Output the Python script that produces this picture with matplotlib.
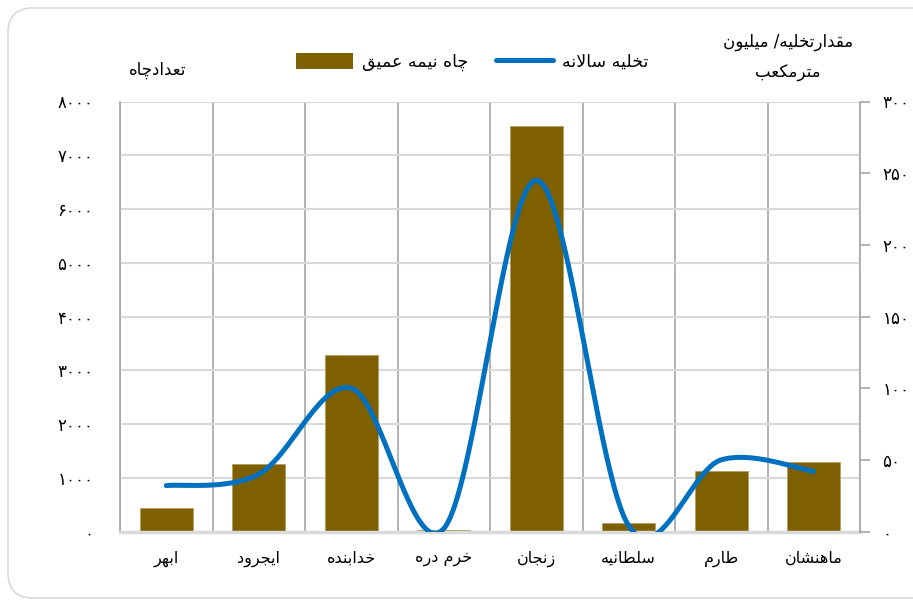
import numpy as np
import matplotlib
matplotlib.use('Agg')
import matplotlib.pyplot as plt
from matplotlib.ticker import FuncFormatter
from matplotlib.patches import FancyBboxPatch
from matplotlib.lines import Line2D
from matplotlib.patches import Patch

# داده ها
shahrestan = ['ابهر', 'ایجرود', 'خدابنده', 'خرم دره', 'زنجان', 'سلطانیه', 'طارم', 'ماهنشان']
tedad_chah = [430, 1250, 3280, 20, 7540, 160, 1130, 1290]   # محور چپ
takhlie = [32, 40, 100, 2, 245, 4, 50, 42]                   # محور راست

BAR_COLOR = '#7F6000'
LINE_COLOR = '#0070C0'

# matplotlib حروف فارسی را به هم نمی چسباند، پس شکل حروف را خودمان انتخاب می کنیم
# (جدا، پایانی، آغازی، میانی)
FORMS = {
    'ا': ('\uFE8D', '\uFE8E'),
    'ب': ('\uFE8F', '\uFE90', '\uFE91', '\uFE92'),
    'ت': ('\uFE95', '\uFE96', '\uFE97', '\uFE98'),
    'ج': ('\uFE9D', '\uFE9E', '\uFE9F', '\uFEA0'),
    'چ': ('\uFB7A', '\uFB7B', '\uFB7C', '\uFB7D'),
    'خ': ('\uFEA5', '\uFEA6', '\uFEA7', '\uFEA8'),
    'د': ('\uFEA9', '\uFEAA'),
    'ر': ('\uFEAD', '\uFEAE'),
    'ز': ('\uFEAF', '\uFEB0'),
    'س': ('\uFEB1', '\uFEB2', '\uFEB3', '\uFEB4'),
    'ش': ('\uFEB5', '\uFEB6', '\uFEB7', '\uFEB8'),
    'ط': ('\uFEC1', '\uFEC2', '\uFEC3', '\uFEC4'),
    'ع': ('\uFEC9', '\uFECA', '\uFECB', '\uFECC'),
    'ق': ('\uFED5', '\uFED6', '\uFED7', '\uFED8'),
    'ک': ('\uFB8E', '\uFB8F', '\uFB90', '\uFB91'),
    'ل': ('\uFEDD', '\uFEDE', '\uFEDF', '\uFEE0'),
    'م': ('\uFEE1', '\uFEE2', '\uFEE3', '\uFEE4'),
    'ن': ('\uFEE5', '\uFEE6', '\uFEE7', '\uFEE8'),
    'ه': ('\uFEE9', '\uFEEA', '\uFEEB', '\uFEEC'),
    'و': ('\uFEED', '\uFEEE'),
    'ی': ('\uFBFC', '\uFBFD', '\uFBFE', '\uFBFF'),
}


def farsi(s):
    out = []
    i = 0
    while i < len(s):
        c = s[i]
        if c not in FORMS:
            out.append(c)
            i += 1
            continue
        prev = s[i-1] if i > 0 else ''
        j_prev = prev in FORMS and len(FORMS[prev]) == 4
        # لام الف
        if c == 'ل' and i+1 < len(s) and s[i+1] == 'ا':
            out.append('\uFEFC' if j_prev else '\uFEFB')
            i += 2
            continue
        nxt = s[i+1] if i+1 < len(s) else ''
        j_next = nxt in FORMS and len(FORMS[c]) == 4
        f = FORMS[c]
        if j_prev and j_next:
            out.append(f[3])
        elif j_prev:
            out.append(f[1])
        elif j_next:
            out.append(f[2])
        else:
            out.append(f[0])
        i += 1
    return ''.join(out[::-1])


def fa_num(v, pos=None):
    return str(int(round(v))).translate(str.maketrans('0123456789', '۰۱۲۳۴۵۶۷۸۹'))


def smooth(x, y, n=50):
    # منحنی نرم مثل اکسل (بزیه با نقاط کنترل کتمول-رام)
    px = np.r_[x[0], x, x[-1]].astype(float)
    py = np.r_[y[0], y, y[-1]].astype(float)
    t = np.linspace(0, 1, n)[:, None]
    pts = []
    for i in range(1, len(px) - 2):
        p0 = np.array([px[i], py[i]])
        p3 = np.array([px[i+1], py[i+1]])
        p1 = p0 + (p3 - np.array([px[i-1], py[i-1]])) / 6
        p2 = p3 - (np.array([px[i+2], py[i+2]]) - p0) / 6
        seg = (1-t)**3*p0 + 3*(1-t)**2*t*p1 + 3*(1-t)*t**2*p2 + t**3*p3
        pts.append(seg if i == 1 else seg[1:])
    pts = np.vstack(pts)
    return pts[:, 0], pts[:, 1]


plt.rcParams['font.family'] = ['DejaVu Sans']
fig = plt.figure(figsize=(9.13, 6.0), dpi=100)

# قاب گرد دور نمودار
fig.patches.append(FancyBboxPatch((8, 2), 940, 590, boxstyle='round,pad=0,rounding_size=25',
                                  transform=None, facecolor='none', edgecolor='#D9D9D9', lw=1.2))

ax1 = fig.add_axes([120/913, (600-531.5)/600, 740/913, 430/600])
x = np.arange(len(shahrestan))
ax1.bar(x, tedad_chah, width=0.57, color=BAR_COLOR, edgecolor='#B09A5A', lw=0.5, zorder=2)
ax1.set_xlim(-0.5, len(shahrestan) - 0.5)
ax1.set_ylim(0, 8000)
ax1.set_yticks(np.arange(0, 8001, 1000))
ax1.yaxis.set_major_formatter(FuncFormatter(fa_num))
ax1.set_xticks(x)
ax1.set_xticklabels([farsi(s) for s in shahrestan], fontsize=11.5)
ax1.set_xticks(np.arange(-0.5, len(shahrestan)), minor=True)
ax1.grid(axis='y', color='#D9D9D9', lw=1.5, zorder=0)
ax1.grid(axis='x', which='minor', color='#A6A6A6', lw=1.2, zorder=0)
ax1.set_axisbelow(True)
ax1.tick_params(axis='y', length=0, pad=19, labelsize=12)
ax1.tick_params(axis='x', which='both', length=0, pad=14)
for s in ['top', 'right']:
    ax1.spines[s].set_visible(False)
ax1.spines['left'].set_color('#A6A6A6')
ax1.spines['left'].set_linewidth(1.2)
ax1.spines['bottom'].set_color('#D9D9D9')
ax1.spines['bottom'].set_linewidth(2.5)

ax2 = ax1.twinx()
sx, sy = smooth(x, takhlie)
ax2.plot(sx, sy, color=LINE_COLOR, lw=3.6, solid_capstyle='round')
ax2.set_ylim(0, 300)
ax2.set_yticks(np.arange(0, 301, 50))
ax2.yaxis.set_major_formatter(FuncFormatter(fa_num))
ax2.tick_params(axis='y', length=7, color='#A6A6A6', width=1.2, pad=9, labelsize=12)
for s in ['top', 'left', 'bottom']:
    ax2.spines[s].set_visible(False)
ax2.spines['right'].set_color('#A6A6A6')
ax2.spines['right'].set_linewidth(1.2)

# راهنما
handles = [Patch(facecolor=BAR_COLOR), Line2D([], [], color=LINE_COLOR, lw=3.6, solid_capstyle='round')]
fig.legend(handles, [farsi('چاه نیمه عمیق'), farsi('تخلیه سالانه')], ncol=2, loc='center',
           bbox_to_anchor=(472/913, 1 - 62/600), frameon=False, fontsize=12.5,
           handlelength=3.3, handleheight=1.0, columnspacing=1.6, handletextpad=0.5)

# عنوان محورها
fig.text(158/913, 1 - 70/600, farsi('تعدادچاه'), ha='center', va='center', fontsize=12)
fig.text(788/913, 1 - 42/600, farsi('مقدارتخلیه/ میلیون'), ha='center', va='center', fontsize=12)
fig.text(788/913, 1 - 73/600, farsi('مترمکعب'), ha='center', va='center', fontsize=12)

fig.savefig('out.png', dpi=100)
